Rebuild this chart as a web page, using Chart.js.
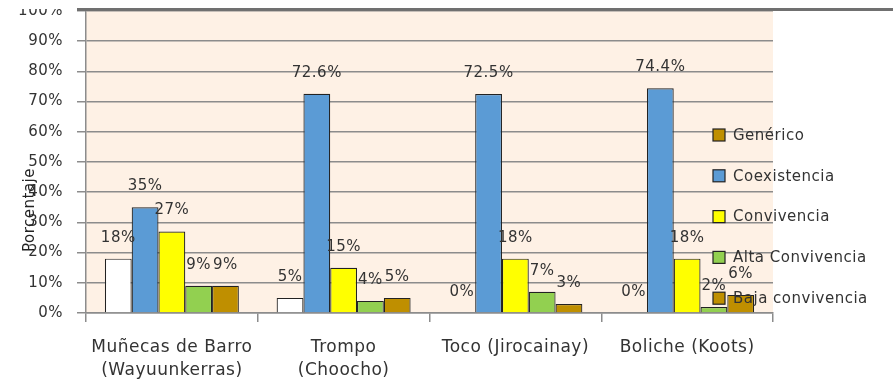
<!DOCTYPE html>
<html>
<head>
<meta charset="utf-8">
<script src="https://cdn.jsdelivr.net/npm/chart.js@4.4.1/dist/chart.umd.min.js"></script>
<style>
  html, body { margin: 0; padding: 0; background: #ffffff; }
  #wrap { width: 893px; height: 382px; position: relative; }
</style>
</head>
<body>
<div id="wrap"><canvas id="c" width="893" height="382"></canvas></div>
<script>
// Juegos tradicionales y porcentaje por tipo de relación
const categories = [
  ['Muñecas de Barro', '(Wayuunkerras)'],
  ['Trompo', '(Choocho)'],
  ['Toco (Jirocainay)'],
  ['Boliche (Koots)']
];
const seriesNames = ['Genérico', 'Coexistencia', 'Convivencia', 'Alta Convivencia', 'Baja convivencia'];
const generico        = [18, 5, 0, 0];
const coexistencia    = [35, 72.6, 72.5, 74.4];
const convivencia     = [27, 15, 18, 18];
const altaConvivencia = [9, 4, 7, 2];
const bajaConvivencia = [9, 5, 3, 6];
const yTicks = [0, 10, 20, 30, 40, 50, 60, 70, 80, 90, 100];

const fills = ['#ffffff', '#5b9bd5', '#ffff00', '#92d050', '#bf8f00'];
const swatches = ['#bf8f00', '#5b9bd5', '#ffff00', '#92d050', '#bf8f00'];
const FONT = 'DejaVu Sans';
const TEXT = '#333333';

const seriesValues = [generico, coexistencia, convivencia, altaConvivencia, bajaConvivencia];

function spacing(chart) { chart.ctx.letterSpacing = '0.5px'; }

const letterSpacingPlugin = {
  id: 'letterSpacing',
  beforeInit: spacing,
  beforeUpdate: spacing,
  beforeLayout: spacing,
  beforeDraw: spacing
};

const plotBackground = {
  id: 'plotBackground',
  beforeDraw(chart) {
    const { ctx, chartArea: a } = chart;
    ctx.save();
    ctx.fillStyle = '#fef1e5';
    ctx.fillRect(a.left, a.top, a.right - a.left, a.bottom - a.top);
    ctx.restore();
  }
};

const valueLabels = {
  id: 'valueLabels',
  afterDatasetsDraw(chart) {
    const ctx = chart.ctx;
    ctx.save();
    ctx.font = '15px "' + FONT + '"';
    ctx.fillStyle = TEXT;
    ctx.textAlign = 'center';
    ctx.textBaseline = 'middle';
    chart.data.datasets.forEach((ds, i) => {
      const meta = chart.getDatasetMeta(i);
      meta.data.forEach((bar, j) => {
        const v = ds.data[j];
        ctx.fillText(v + '%', bar.x, bar.y - 21);
      });
    });
    ctx.restore();
  }
};

const sideLegend = {
  id: 'sideLegend',
  afterDraw(chart) {
    const ctx = chart.ctx;
    ctx.save();
    ctx.font = '15px "' + FONT + '"';
    ctx.textBaseline = 'middle';
    ctx.textAlign = 'left';
    const x0 = 713, y0 = 135, step = 40.8;
    chart.data.datasets.forEach((ds, i) => {
      const y = y0 + i * step;
      ctx.fillStyle = swatches[i];
      ctx.fillRect(x0, y - 6, 12, 12);
      ctx.strokeStyle = '#222222';
      ctx.lineWidth = 1.2;
      ctx.strokeRect(x0, y - 6, 12, 12);
      ctx.fillStyle = TEXT;
      ctx.fillText(ds.label, x0 + 20, y + 1);
    });

    // vertical axis title
    ctx.translate(30, 210);
    ctx.rotate(-Math.PI / 2);
    ctx.textAlign = 'center';
    ctx.fillStyle = '#222222';
    ctx.fillText('Porcentaje', 0, 0);
    ctx.restore();

    // frame line along the top edge
    ctx.save();
    ctx.fillStyle = '#ffffff';
    ctx.fillRect(0, 0, 77, 9);
    ctx.fillStyle = '#707070';
    ctx.fillRect(77, 8, 816, 3);
    ctx.restore();
  }
};

new Chart(document.getElementById('c'), {
  type: 'bar',
  data: {
    labels: categories,
    datasets: seriesNames.map((name, i) => ({
      label: name,
      data: seriesValues[i],
      backgroundColor: fills[i],
      borderColor: '#222222',
      borderWidth: 1.2,
      categoryPercentage: 0.78,
      barPercentage: 1.0
    }))
  },
  options: {
    responsive: false,
    animation: false,
    devicePixelRatio: 1,
    layout: { padding: { top: 11, right: 120, left: 0, bottom: 0 } },
    plugins: { legend: { display: false }, tooltip: { enabled: false } },
    scales: {
      x: {
        afterFit(scale) { scale.height = 69; },
        grid: {
          offset: true,
          drawOnChartArea: false,
          color: '#8c8c8c',
          lineWidth: 1.5,
          tickLength: 9
        },
        border: { color: '#8c8c8c', width: 1.5 },
        ticks: {
          color: TEXT,
          font: { family: FONT, size: 17, lineHeight: 1.3 },
          padding: 15,
          maxRotation: 0,
          autoSkip: false
        }
      },
      y: {
        min: 0,
        max: 100,
        afterFit(scale) {
          scale.width = 86;
          scale.paddingTop = 0;
          scale.paddingBottom = 0;
        },
        afterBuildTicks(scale) { scale.ticks = yTicks.map(v => ({ value: v })); },
        grid: {
          color: '#8c8c8c',
          lineWidth: 1.5,
          tickLength: 9
        },
        border: { color: '#8c8c8c', width: 1.5 },
        ticks: {
          color: TEXT,
          font: { family: FONT, size: 15 },
          padding: 14,
          callback: v => v + '%'
        }
      }
    }
  },
  plugins: [letterSpacingPlugin, plotBackground, valueLabels, sideLegend]
});
</script>
</body>
</html>
